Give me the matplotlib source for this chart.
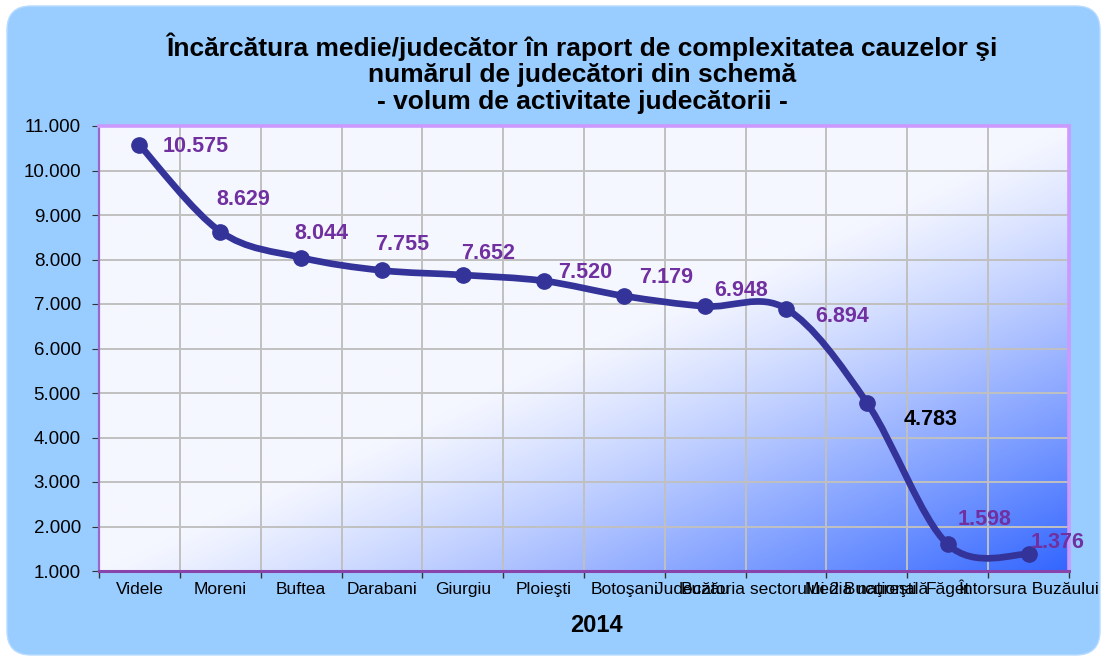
import numpy as np
import matplotlib
matplotlib.use("Agg")
import matplotlib.pyplot as plt
from matplotlib.patches import FancyBboxPatch
from matplotlib.transforms import IdentityTransform
from matplotlib.path import Path
from matplotlib.patches import PathPatch
from matplotlib.ticker import FixedLocator, FuncFormatter

plt.rcParams['font.family'] = ['Liberation Sans', 'DejaVu Sans']

categories = ["Videle", "Moreni", "Buftea", "Darabani", "Giurgiu", "Ploieşti",
              "Botoşani", "Buzău", "Judecătoria sectorului 2 Bucureşti",
              "Media naţională", "Făget", "Întorsura Buzăului"]
values = [10.575, 8.629, 8.044, 7.755, 7.652, 7.520, 7.179, 6.948, 6.894,
          4.783, 1.598, 1.376]
value_labels = ["10.575", "8.629", "8.044", "7.755", "7.652", "7.520", "7.179",
                "6.948", "6.894", "4.783", "1.598", "1.376"]
yticks = [1, 2, 3, 4, 5, 6, 7, 8, 9, 10, 11]
title = ("Încărcătura medie/judecător în raport de complexitatea cauzelor şi\n"
         "numărul de judecători din schemă\n"
         "- volum de activitate judecătorii -")
xlabel = "2014"

# label offsets (pixels) and colours
label_offsets = [(56, -2), (23, 32), (20, 24), (20, 26), (25, 21), (42, 8),
                 (42, 19), (36, 16), (56, -8), (64, -17), (37, 25), (29, 12)]
label_colors = ["#7030A0"] * 9 + ["#000000"] + ["#7030A0"] * 2

W, H = 1105, 661
fig = plt.figure(figsize=(W / 100, H / 100), dpi=100)
fig.patch.set_facecolor("white")

bg = FancyBboxPatch((7, 6), 1093, 649, boxstyle="round,pad=0,rounding_size=24",
                    transform=IdentityTransform(), facecolor="#99CCFF",
                    edgecolor="#B8DCFF", linewidth=1, zorder=-5)
fig.patches.append(bg)

ax = fig.add_axes([99 / W, 1 - 571 / H, 970 / W, 445 / H])
ax.set_facecolor("none")
ax.set_zorder(1)

# gradient background
n = 400
u = np.linspace(0, 1, n)[None, :]
v = np.linspace(0, 1, n)[:, None]  # 0 top, 1 bottom
t = (u + v) / 2
f = np.clip((t - 0.5) / 0.5, 0, 1) ** 1.15
c0 = np.array([0xF5, 0xF7, 0xFF]) / 255
c1 = np.array([0x33, 0x66, 0xFF]) / 255
img = c0[None, None, :] * (1 - f[..., None]) + c1[None, None, :] * f[..., None]
ax.imshow(img, extent=[0, 1, 0, 1], transform=ax.transAxes, aspect='auto',
          zorder=0, interpolation='bilinear')

x = np.arange(len(values))
y = np.array(values)

# smoothed line (cardinal bezier like spreadsheet smoothing)
P = np.column_stack([x, y]).astype(float)
verts = [tuple(P[0])]
codes = [Path.MOVETO]
for i in range(len(P) - 1):
    p0 = P[i - 1] if i > 0 else P[i]
    p1 = P[i]
    p2 = P[i + 1]
    p3 = P[i + 2] if i + 2 < len(P) else P[i + 1]
    c1p = p1 + (p2 - p0) / 6
    c2p = p2 - (p3 - p1) / 6
    verts += [tuple(c1p), tuple(c2p), tuple(p2)]
    codes += [Path.CURVE4] * 3
path = Path(verts, codes)
ax.add_patch(PathPatch(path, facecolor="none", edgecolor="#333399", lw=4.8,
                       capstyle='round', joinstyle='round', zorder=3))
ax.plot(x, y, linestyle="none", marker="o", markersize=11,
        color="#333399", zorder=4)

for xi, yi, lab, off, col in zip(x, y, value_labels, label_offsets, label_colors):
    ax.annotate(lab, (xi, yi), xytext=off, textcoords="offset pixels",
                ha="center", va="center", fontsize=15.5, fontweight="bold",
                color=col, zorder=5)

ax.set_xlim(-0.5, len(values) - 0.5)
ax.set_ylim(1, 11)
ax.set_yticks(yticks)
ax.yaxis.set_major_formatter(FuncFormatter(lambda v, p: f"{v:.3f}"))
ax.xaxis.set_major_locator(FixedLocator(np.arange(-0.5, len(values), 1)))
ax.xaxis.set_major_formatter(FuncFormatter(lambda v, p: ""))
ax.xaxis.set_minor_locator(FixedLocator(x))
ax.set_xticklabels(categories, minor=True)
ax.tick_params(axis='x', which='minor', length=0, pad=8, labelsize=12.5)
ax.tick_params(axis='x', which='major', length=5, direction='out',
               color='#333333', width=1)
ax.tick_params(axis='y', length=5, direction='out', color='#333333',
               labelsize=13.5, pad=8)

ax.grid(True, which='major', color="#C0C0C0", linewidth=1.4, zorder=1)
ax.set_axisbelow(True)

for s in ["top", "right"]:
    ax.spines[s].set_color("#CC99FF")
    ax.spines[s].set_linewidth(2.6)
ax.spines["left"].set_color("#9966CC")
ax.spines["left"].set_linewidth(1.6)
ax.spines["bottom"].set_color("#8844AA")
ax.spines["bottom"].set_linewidth(2.2)

fig.text(582 / W, 1 - 73 / H, title, ha="center", va="center",
         fontsize=19, fontweight="bold", linespacing=1.12)
fig.text(596 / W, 1 - 626 / H, xlabel, ha="center", va="center",
         fontsize=17, fontweight="bold")

fig.savefig("out.png", dpi=100, facecolor=fig.get_facecolor())
